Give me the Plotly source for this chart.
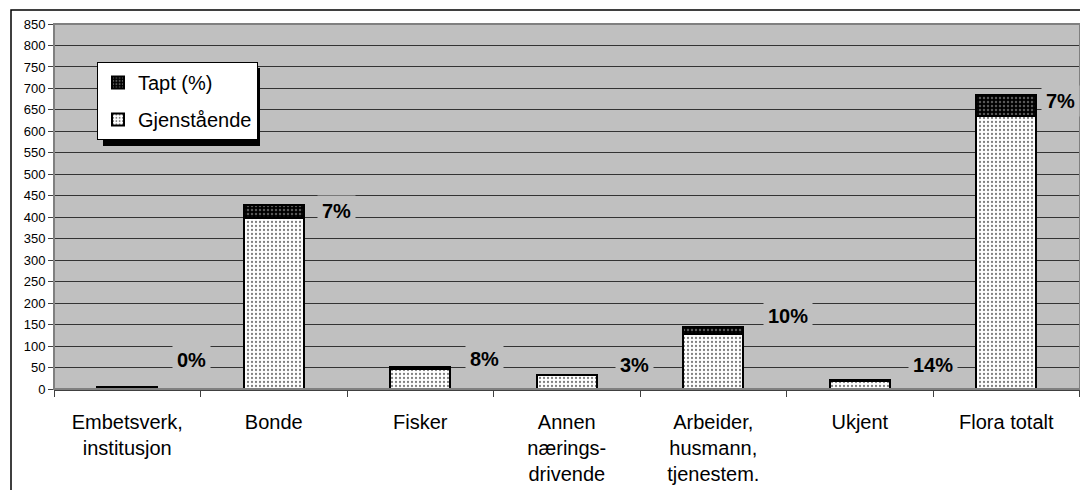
import plotly.graph_objects as go

# Data
categories = ['Embetsverk,<br>institusjon', 'Bonde', 'Fisker', 'Annen<br>nærings-<br>drivende',
              'Arbeider,<br>husmann,<br>tjenestem.', 'Ukjent', 'Flora totalt']
gjenstaende = [5, 399, 47, 32, 129, 19, 636]
tapt = [0, 30, 4, 1, 15, 3, 49]

# plassering av prosent-etikettene (manuelt flyttet i originalen)
label_dx = [0.44, 0.43, 0.44, 0.46, 0.51, 0.50, 0.37]
label_y = [68, 414, 70, 57, 169, 57, 670]

# siden har 8px body-marg, figuren gjøres mindre og flyttes tilsvarende
OFF = 8
W, H = 1088 - 2 * OFF, 498 - 2 * OFF
L, R, T, B = 54 - OFF, 0, 24 - OFF, 101
pw, ph = W - L - R, H - T - B


def px_x(p):
    return (p - OFF - L) / pw


def px_y(p):
    return (H - B - (p - OFF)) / ph


fig = go.Figure()

fig.add_trace(go.Bar(
    x=categories, y=gjenstaende, name='Gjenstående',
    legendgroup='g', legendrank=2,
    marker=dict(color='white', line=dict(color='black', width=2),
                pattern=dict(shape='.', fgcolor='black', bgcolor='white', size=4, solidity=0.25)),
    hoverinfo='y'
))
fig.add_trace(go.Bar(
    x=categories, y=tapt, name='Tapt (%)',
    legendgroup='t', legendrank=1,
    marker=dict(color='black', line=dict(color='black', width=2),
                pattern=dict(shape='.', fgcolor='#b0b0b0', bgcolor='black', size=4, solidity=0.3)),
    hoverinfo='y'
))

# prosent-etiketter
for i in range(len(categories)):
    total = gjenstaende[i] + tapt[i]
    pct = round(100 * tapt[i] / total) if total else 0
    fig.add_annotation(
        x=i + label_dx[i], y=label_y[i], xref='x', yref='y',
        text=f'<b>{pct}%</b>', showarrow=False,
        font=dict(family='Arial, Liberation Sans', size=20, color='black'),
        bgcolor='#C0C0C0', borderpad=4
    )

# ramme rundt hele diagrammet
fig.add_shape(type='rect', xref='paper', yref='paper',
              x0=px_x(11), x1=px_x(1100), y0=px_y(520), y1=px_y(10),
              line=dict(color='black', width=1.5), layer='below')
# ramme rundt plottet
fig.add_shape(type='rect', xref='paper', yref='paper',
              x0=0, x1=1, y0=0, y1=1,
              line=dict(color='#808080', width=2), layer='above')
# skygge bak legenden
fig.add_shape(type='rect', xref='paper', yref='paper',
              x0=px_x(103), x1=px_x(260), y0=px_y(146), y1=px_y(68),
              line=dict(width=0), fillcolor='black', layer='above')

fig.update_layout(
    width=W, height=H,
    margin=dict(l=L, r=R, t=T, b=B, autoexpand=False),
    barmode='stack',
    bargap=0.59,
    paper_bgcolor='white',
    plot_bgcolor='#C0C0C0',
    font=dict(family='Arial, Liberation Sans', color='black'),
    showlegend=True,
    legend=dict(
        x=px_x(97), y=px_y(62), xanchor='left', yanchor='top',
        bgcolor='white', bordercolor='black', borderwidth=1,
        font=dict(size=20, family='Arial, Liberation Sans'),
        traceorder='grouped', tracegroupgap=8,
        itemwidth=30
    ),
    xaxis=dict(
        type='category', tickson='boundaries', automargin=False,
        showline=True, linecolor='#404040', linewidth=1.5,
        ticks='outside', ticklen=6, tickcolor='#404040',
        tickfont=dict(size=20, family='Arial, Liberation Sans'),
        ticklabelstandoff=14,
        showgrid=False
    ),
    yaxis=dict(
        range=[0, 850], dtick=50, tick0=0, automargin=False,
        showgrid=True, gridcolor='#333333', gridwidth=1,
        ticks='outside', ticklen=5, tickcolor='#404040',
        tickfont=dict(size=13, family='Arial, Liberation Sans'),
        showline=False, zeroline=False
    ),
)

fig.write_html('out.html')
